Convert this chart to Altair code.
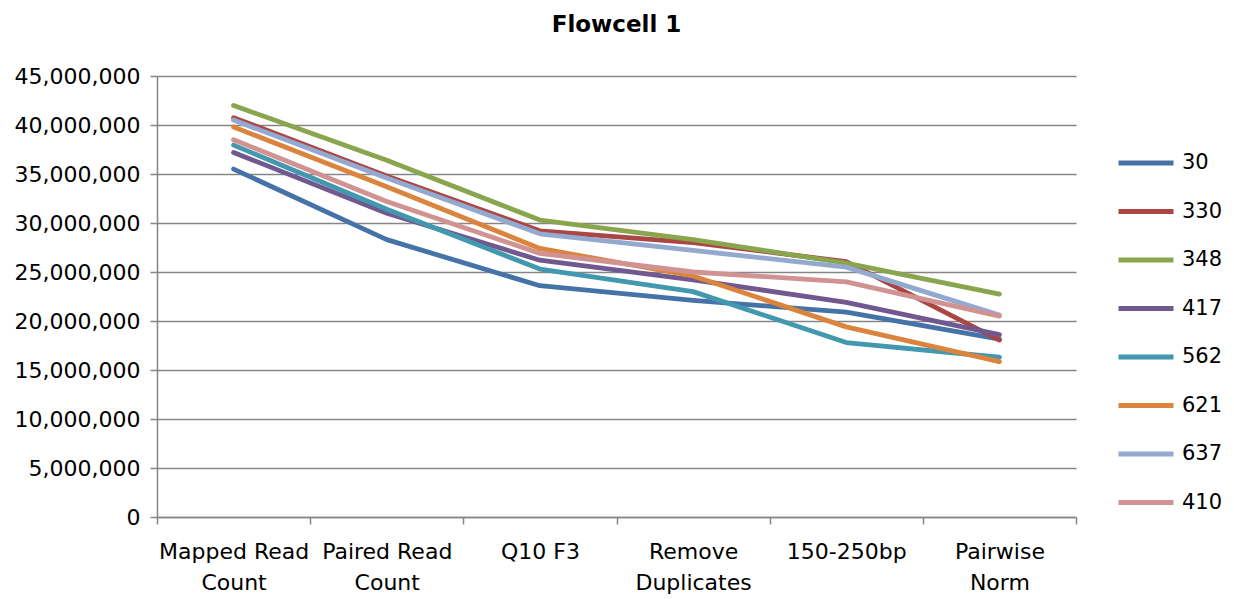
import altair as alt
import pandas as pd

categories = ["Mapped Read Count", "Paired Read Count", "Q10 F3",
              "Remove Duplicates", "150-250bp", "Pairwise Norm"]
label_lines = [["Mapped Read", "Count"], ["Paired Read", "Count"], ["Q10 F3"],
               ["Remove", "Duplicates"], ["150-250bp"], ["Pairwise", "Norm"]]

series = ["30", "330", "348", "417", "562", "621", "637", "410"]
colors = ["#4572A7", "#AA4643", "#89A54E", "#71588F", "#4198AF", "#DB843D", "#93A9CF", "#D19392"]

v30  = [35500000, 28300000, 23600000, 22100000, 20900000, 18150000]
v330 = [40750000, 34800000, 29200000, 28000000, 26050000, 18050000]
v348 = [42000000, 36400000, 30300000, 28300000, 25900000, 22750000]
v417 = [37200000, 31000000, 26200000, 24200000, 21900000, 18600000]
v562 = [37950000, 31400000, 25300000, 23000000, 17800000, 16300000]
v621 = [39800000, 33700000, 27400000, 24600000, 19400000, 15850000]
v637 = [40500000, 34600000, 28900000, 27200000, 25500000, 20600000]
v410 = [38500000, 32200000, 26900000, 25000000, 24000000, 20500000]

values = [v30, v330, v348, v417, v562, v621, v637, v410]

rows = []
for s, vals in zip(series, values):
    for i, (c, v) in enumerate(zip(categories, vals)):
        rows.append({"series": s, "stage": c, "reads": v, "order": i})
df = pd.DataFrame(rows)

# label expression mapping category -> lines
parts = []
for c, lines in zip(categories, label_lines):
    arr = "[" + ",".join("'" + l + "'" for l in lines) + "]"
    parts.append(f"datum.value == '{c}' ? {arr}")
label_expr = " : ".join(parts) + " : datum.value"

FONT = "DejaVu Sans"

chart = alt.Chart(df).mark_line(strokeWidth=4.8, strokeCap="round", strokeJoin="round").encode(
    x=alt.X("stage:N", sort=categories, bandPosition=0.5,
            scale=alt.Scale(type="band", paddingInner=0, paddingOuter=0),
            axis=alt.Axis(title=None, labelAngle=0, labelExpr=label_expr, tickBand="extent",
                          grid=False, domainColor="#868686", domainWidth=1.5,
                          tickColor="#868686", tickWidth=1.5, tickSize=7,
                          labelFont=FONT, labelFontSize=22, labelColor="#000000",
                          labelPadding=17, labelLineHeight=31)),
    y=alt.Y("reads:Q", scale=alt.Scale(domain=[0, 45000000], nice=False),
            axis=alt.Axis(title=None, format=",d", values=list(range(0, 45000001, 5000000)),
                          gridColor="#868686", gridWidth=1.5, domainColor="#868686", domainWidth=1.5,
                          tickColor="#868686", tickWidth=1.5, tickSize=7,
                          labelFont=FONT, labelFontSize=22, labelColor="#000000", labelPadding=10)),
    color=alt.Color("series:N", sort=series,
                    scale=alt.Scale(domain=series, range=colors),
                    legend=alt.Legend(title=None, orient="none", legendX=959, legendY=57,
                                      symbolType="stroke", symbolStrokeWidth=5, symbolSize=3025,
                                      labelFont=FONT, labelFontSize=21, labelColor="#000000",
                                      labelOffset=6, rowPadding=8.5)),
    detail="series:N",
    order="order:Q",
).properties(
    width=919, height=441,
    title=alt.TitleParams("Flowcell 1", font=FONT, fontSize=23, fontWeight="bold",
                          color="#000000", anchor="middle", offset=28),
    autosize=alt.AutoSizeParams(type="none"),
    padding={"left": 157, "top": 76, "right": 158, "bottom": 82},
).configure_view(stroke=None)

chart.save("out.html", embed_options={"renderer": "svg", "actions": False})
